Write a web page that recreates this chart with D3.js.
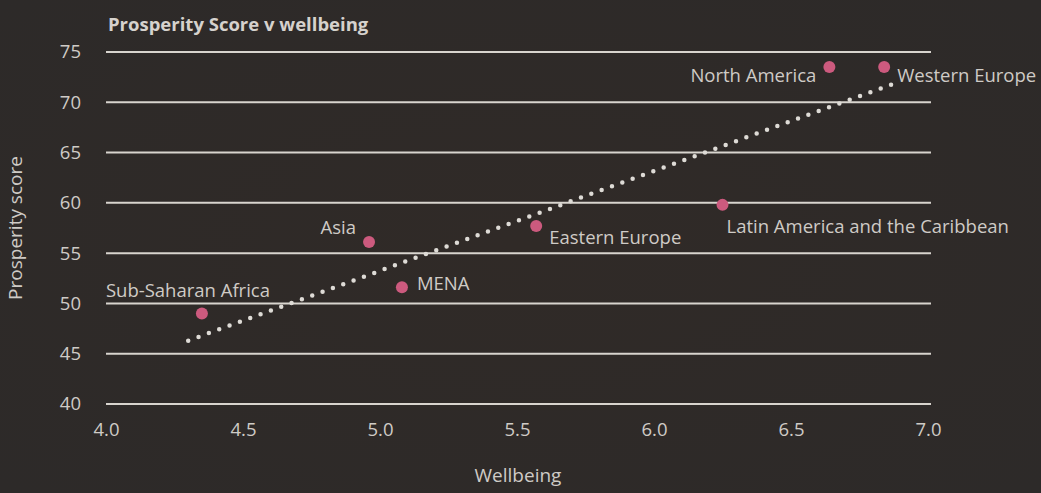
<!DOCTYPE html>
<html><head><meta charset="utf-8">
<script src="https://cdn.jsdelivr.net/npm/d3@7"></script>
<style>
html,body{margin:0;padding:0;background:#2f2b29;}
svg{display:block;}
</style></head><body>
<svg id="chart" width="1041" height="493"></svg>
<script>
const regions = ["Sub-Saharan Africa","Asia","MENA","Eastern Europe","Latin America and the Caribbean","North America","Western Europe"];
const wellbeing = [4.35, 4.96, 5.08, 5.57, 6.25, 6.64, 6.84];
const prosperity = [49.0, 56.1, 51.6, 57.7, 59.8, 73.5, 73.5];
const trendX = [4.3, 6.87];
const trendY = [46.3, 71.8];
const xTicks = [4.0, 4.5, 5.0, 5.5, 6.0, 6.5, 7.0];
const yTicks = [40, 45, 50, 55, 60, 65, 70, 75];

const svg = d3.select("#chart");
const font = "'Open Sans', 'Noto Sans', sans-serif";
const textCol = "#cfcbc6";
const fs = 18.5;

const defs = svg.append("defs");
const grad = defs.append("radialGradient").attr("id","bg").attr("cx","50%").attr("cy","50%").attr("r","70%");
grad.append("stop").attr("offset","0%").attr("stop-color","#302a27");
grad.append("stop").attr("offset","100%").attr("stop-color","#2d2a29");
svg.append("rect").attr("width",1041).attr("height",493).attr("fill","url(#bg)");

const x = d3.scaleLinear().domain([4, 7]).range([106, 928]);
const y = d3.scaleLinear().domain([40, 75]).range([404, 52]);

svg.append("g").selectAll("line").data(yTicks).join("line")
  .attr("x1", 106).attr("x2", 931)
  .attr("y1", d => y(d)).attr("y2", d => y(d))
  .attr("stroke", "#d8d4ce").attr("stroke-width", 2);

const yAxis = d3.axisLeft(y).tickValues(yTicks).tickSize(0).tickPadding(0).tickFormat(d3.format("d"));
const gy = svg.append("g").attr("transform","translate(81,0)").call(yAxis);
gy.select(".domain").remove();
gy.selectAll("text").attr("font-family",font).attr("font-size",fs).attr("fill",textCol);

const xAxis = d3.axisBottom(x).tickValues(xTicks).tickSize(0).tickPadding(0).tickFormat(d3.format(".1f"));
const gx = svg.append("g").attr("transform","translate(0,423)").call(xAxis);
gx.select(".domain").remove();
gx.selectAll("text").attr("font-family",font).attr("font-size",fs).attr("fill",textCol);

svg.append("line")
  .attr("x1", x(trendX[0])).attr("y1", y(trendY[0]))
  .attr("x2", x(trendX[1])).attr("y2", y(trendY[1]))
  .attr("stroke", "#dedbd6").attr("stroke-width", 4.5)
  .attr("stroke-linecap","round").attr("stroke-dasharray","0 11");

const data = regions.map((r,i)=>({r, wb: wellbeing[i], p: prosperity[i]}));
svg.append("g").selectAll("circle").data(data).join("circle")
  .attr("cx", d => x(d.wb)).attr("cy", d => y(d.p)).attr("r", 6)
  .attr("fill", "#cc5a7e");

const lab = {
  "Asia": {dx: -13, dy: -8, anchor: "end"},
  "MENA": {dx: 15, dy: 3, anchor: "start"},
  "Eastern Europe": {dx: 13, dy: 18, anchor: "start"},
  "North America": {dx: -13, dy: 15, anchor: "end"},
  "Western Europe": {dx: 13, dy: 15, anchor: "start"},
  "Latin America and the Caribbean": {dx: 4, dy: 28, anchor: "start"},
  "Sub-Saharan Africa": {dx: -96, dy: -16, anchor: "start"}
};
svg.append("g").selectAll("text").data(data).join("text")
  .attr("x", d => x(d.wb) + lab[d.r].dx)
  .attr("y", d => y(d.p) + lab[d.r].dy)
  .attr("text-anchor", d => lab[d.r].anchor)
  .attr("font-family", font).attr("font-size", fs).attr("fill", textCol)
  .text(d => d.r);

svg.append("text").attr("x",108).attr("y",31)
  .attr("font-family",font).attr("font-size",18.5).attr("font-weight","bold").attr("fill","#d6d2cd")
  .text("Prosperity Score v wellbeing");

svg.append("text").attr("x",518).attr("y",482).attr("text-anchor","middle")
  .attr("font-family",font).attr("font-size",19).attr("fill",textCol).text("Wellbeing");
svg.append("text").attr("transform","translate(22,228) rotate(-90)").attr("text-anchor","middle")
  .attr("font-family",font).attr("font-size",19).attr("fill",textCol).text("Prosperity score");
</script>
</body></html>
